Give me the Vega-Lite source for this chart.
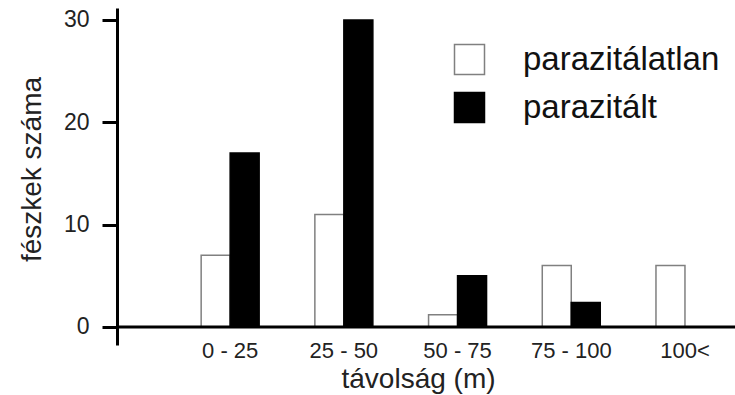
{
  "$schema": "https://vega.github.io/schema/vega-lite/v6.json",
  "width": 618,
  "height": 337,
  "autosize": {"type": "none"},
  "padding": {"left": 117, "top": 8, "right": 0, "bottom": 50},
  "background": "white",
  "config": {
    "view": {"stroke": null},
    "font": "Liberation Sans"
  },
  "layer": [
    {
      "data": {
        "values": [
          {"tav": "0 - 25", "csoport": "parazitálatlan", "n": 7},
          {"tav": "0 - 25", "csoport": "parazitált", "n": 17},
          {"tav": "25 - 50", "csoport": "parazitálatlan", "n": 11},
          {"tav": "25 - 50", "csoport": "parazitált", "n": 30},
          {"tav": "50 - 75", "csoport": "parazitálatlan", "n": 1.2},
          {"tav": "50 - 75", "csoport": "parazitált", "n": 5},
          {"tav": "75 - 100", "csoport": "parazitálatlan", "n": 6},
          {"tav": "75 - 100", "csoport": "parazitált", "n": 2.4},
          {"tav": "100<", "csoport": "parazitálatlan", "n": 6},
          {"tav": "100<", "csoport": "parazitált", "n": 0}
        ]
      },
      "mark": {"type": "bar", "strokeWidth": 1.5},
      "encoding": {
        "x": {
          "field": "tav",
          "type": "nominal",
          "sort": null,
          "scale": {"paddingInner": 0.49, "paddingOuter": 0.4626, "align": 0.8},
          "axis": {
            "title": "távolság (m)",
            "titleFont": "Liberation Sans",
            "titleFontSize": 28,
            "titleFontWeight": "normal",
            "titleColor": "#222",
            "titleX": 301,
            "titleY": 42,
            "titleBaseline": "alphabetic",
            "titleAnchor": null,
            "labelAngle": 0,
            "labelFont": "Liberation Sans",
            "labelFontSize": 22,
            "labelColor": "#222",
            "labelBaseline": "alphabetic",
            "labelPadding": 12,
            "ticks": false,
            "tickSize": 0,
            "domain": false,
            "grid": false
          }
        },
        "xOffset": {
          "field": "csoport",
          "type": "nominal",
          "sort": ["parazitálatlan", "parazitált"],
          "scale": {"paddingInner": 0, "paddingOuter": 0}
        },
        "y": {
          "field": "n",
          "type": "quantitative",
          "scale": {"domain": [-1.76, 31.17], "nice": false, "zero": false},
          "axis": {
            "title": "fészkek száma",
            "titleFont": "Liberation Sans",
            "titleFontSize": 28,
            "titleFontWeight": "normal",
            "titleColor": "#222",
            "titleAngle": -90,
            "titleX": -77,
            "titleY": 161,
            "titleBaseline": "alphabetic",
            "titleAnchor": null,
            "values": [0, 10, 20, 30],
            "labelFont": "Liberation Sans",
            "labelFontSize": 23,
            "labelColor": "#222",
            "labelPadding": 13,
            "tickSize": 15,
            "tickWidth": 3,
            "tickColor": "black",
            "domainWidth": 3,
            "domainColor": "black",
            "grid": false
          }
        },
        "y2": {"datum": 0},
        "color": {
          "field": "csoport",
          "type": "nominal",
          "sort": ["parazitálatlan", "parazitált"],
          "scale": {"domain": ["parazitálatlan", "parazitált"], "range": ["#ffffff", "#000000"]},
          "legend": {
            "title": null,
            "orient": "none",
            "legendX": 336,
            "legendY": 35,
            "symbolType": "square",
            "symbolSize": 900,
            "symbolStrokeWidth": 1.5,
            "labelFont": "Liberation Sans",
            "labelFontSize": 33,
            "labelColor": "#111",
            "labelOffset": 37,
            "rowPadding": 11,
            "labelLimit": 400
          }
        },
        "stroke": {
          "field": "csoport",
          "type": "nominal",
          "sort": ["parazitálatlan", "parazitált"],
          "scale": {"domain": ["parazitálatlan", "parazitált"], "range": ["#808080", "#000000"]},
          "legend": {
            "title": null,
            "orient": "none",
            "legendX": 336,
            "legendY": 35,
            "symbolType": "square",
            "symbolSize": 900,
            "symbolStrokeWidth": 1.5,
            "labelFont": "Liberation Sans",
            "labelFontSize": 33,
            "labelColor": "#111",
            "labelOffset": 37,
            "rowPadding": 11,
            "labelLimit": 400
          }
        }
      }
    },
    {
      "data": {"values": [{"v": 0}]},
      "mark": {"type": "rule", "color": "black", "strokeWidth": 3},
      "encoding": {
        "y": {"field": "v", "type": "quantitative"}
      }
    }
  ]
}
